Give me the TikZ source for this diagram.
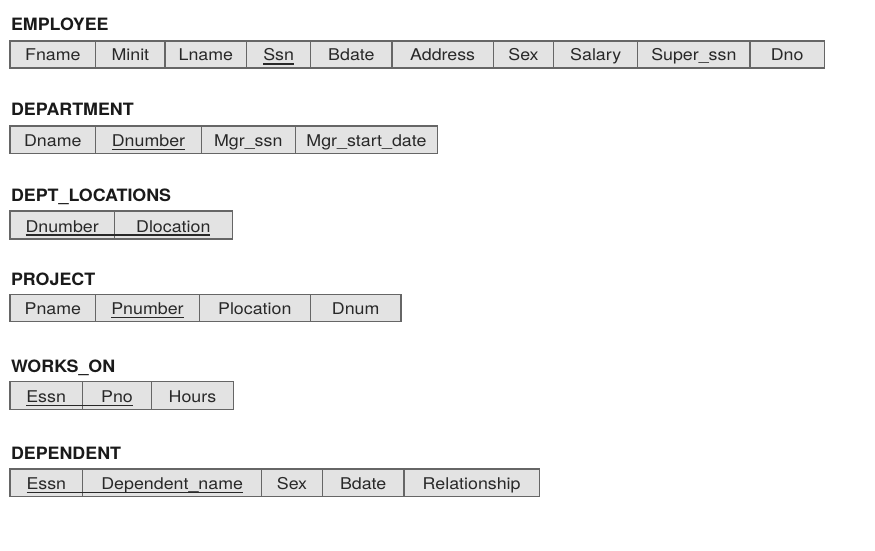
\documentclass[tikz,border=0pt]{standalone}
\usepackage{fontspec}
\newfontfamily\cellfont[FakeStretch=1.1]{TeX Gyre Heros}
\newfontfamily\titlefont[FakeStretch=1.05]{TeX Gyre Heros}
\definecolor{cellfill}{HTML}{E3E3E3}
\definecolor{cellline}{HTML}{666666}
\definecolor{celltxt}{HTML}{282828}
\definecolor{titletxt}{HTML}{1A1A1A}
\tikzset{
  cellbox/.style={draw=cellline, fill=cellfill, line width=1.3pt, inner sep=0pt, outer sep=0pt},
  celltext/.style={inner sep=0pt, outer sep=0pt, text=celltxt, font=\cellfont\fontsize{16.2}{19}\selectfont},
  reltitle/.style={inner sep=0pt, outer sep=0pt, anchor=base west, text=titletxt, font=\titlefont\bfseries\fontsize{17}{20}\selectfont},
  keyline/.style={draw=celltxt, line width=1.1pt},
}
% #1 name, #2 left, #3 right, #4 top, #5 bottom, #6 text
\newcommand\relcell[6]{%
  \node[cellbox, minimum width={(#3-#2)*1pt}, minimum height={(#5-#4)*1pt}, anchor=north west] (#1B) at (#2,#4) {};
  \node[celltext, anchor=base] (#1) at ([yshift=7pt]#1B.south) {#6};}
\newcommand\keyunder[2]{\draw[keyline] ([yshift=-3pt]#1.base west) -- ([yshift=-3pt]#2.base east);}
\begin{document}
\begin{tikzpicture}[x=1pt,y=-1pt]
\useasboundingbox (0,0) rectangle (875,551);
\fill[white] (0,0) rectangle (875,551);

% EMPLOYEE
\node[reltitle] (tEmp) at (11,30.3) {EMPLOYEE};
\relcell{E1}{10}{95.7}{41}{68}{Fname}
\relcell{E2}{95.7}{165}{41}{68}{Minit}
\relcell{E3}{165}{246.7}{41}{68}{Lname}
\relcell{E4}{246.7}{310.7}{41}{68}{Ssn}
\relcell{E5}{310.7}{392}{41}{68}{Bdate}
\relcell{E6}{392}{493.3}{41}{68}{Address}
\relcell{E7}{493.3}{553.7}{41}{68}{Sex}
\relcell{E8}{553.7}{637.7}{41}{68}{Salary}
\relcell{E9}{637.7}{750}{41}{68}{Super\_ssn}
\relcell{E10}{750}{824.3}{41}{68}{Dno}
\keyunder{E4}{E4}

% DEPARTMENT
\node[reltitle] (tDep) at (11,115.7) {DEPARTMENT};
\relcell{D1}{10}{95.7}{126}{153.3}{Dname}
\relcell{D2}{95.7}{201.3}{126}{153.3}{Dnumber}
\relcell{D3}{201.3}{295.3}{126}{153.3}{Mgr\_ssn}
\relcell{D4}{295.3}{437.7}{126}{153.3}{Mgr\_start\_date}
\keyunder{D2}{D2}

% DEPT_LOCATIONS
\node[reltitle] (tLoc) at (11,201.7) {DEPT\_LOCATIONS};
\relcell{L1}{10}{114.3}{211}{239}{Dnumber}
\relcell{L2}{114.3}{232.3}{211}{239}{Dlocation}
\keyunder{L1}{L2}

% PROJECT
\node[reltitle] (tPrj) at (11,285) {PROJECT};
\relcell{P1}{10}{95.7}{294.3}{321.7}{Pname}
\relcell{P2}{95.7}{199.3}{294.3}{321.7}{Pnumber}
\relcell{P3}{199.3}{310.3}{294.3}{321.7}{Plocation}
\relcell{P4}{310.3}{401}{294.3}{321.7}{Dnum}
\keyunder{P2}{P2}

% WORKS_ON
\node[reltitle] (tWrk) at (11,372.7) {WORKS\_ON};
\relcell{W1}{10}{82.3}{381.7}{409.7}{Essn}
\relcell{W2}{82.3}{151.7}{381.7}{409.7}{Pno}
\relcell{W3}{151.7}{233.3}{381.7}{409.7}{Hours}
\keyunder{W1}{W2}

% DEPENDENT
\node[reltitle] (tDpd) at (11,459.3) {DEPENDENT};
\relcell{N1}{10}{82.7}{469}{496.7}{Essn}
\relcell{N2}{82.7}{261.7}{469}{496.7}{Dependent\_name}
\relcell{N3}{261.7}{322.3}{469}{496.7}{Sex}
\relcell{N4}{322.3}{404}{469}{496.7}{Bdate}
\relcell{N5}{404}{539.3}{469}{496.7}{Relationship}
\keyunder{N1}{N2}
\end{tikzpicture}
\end{document}
